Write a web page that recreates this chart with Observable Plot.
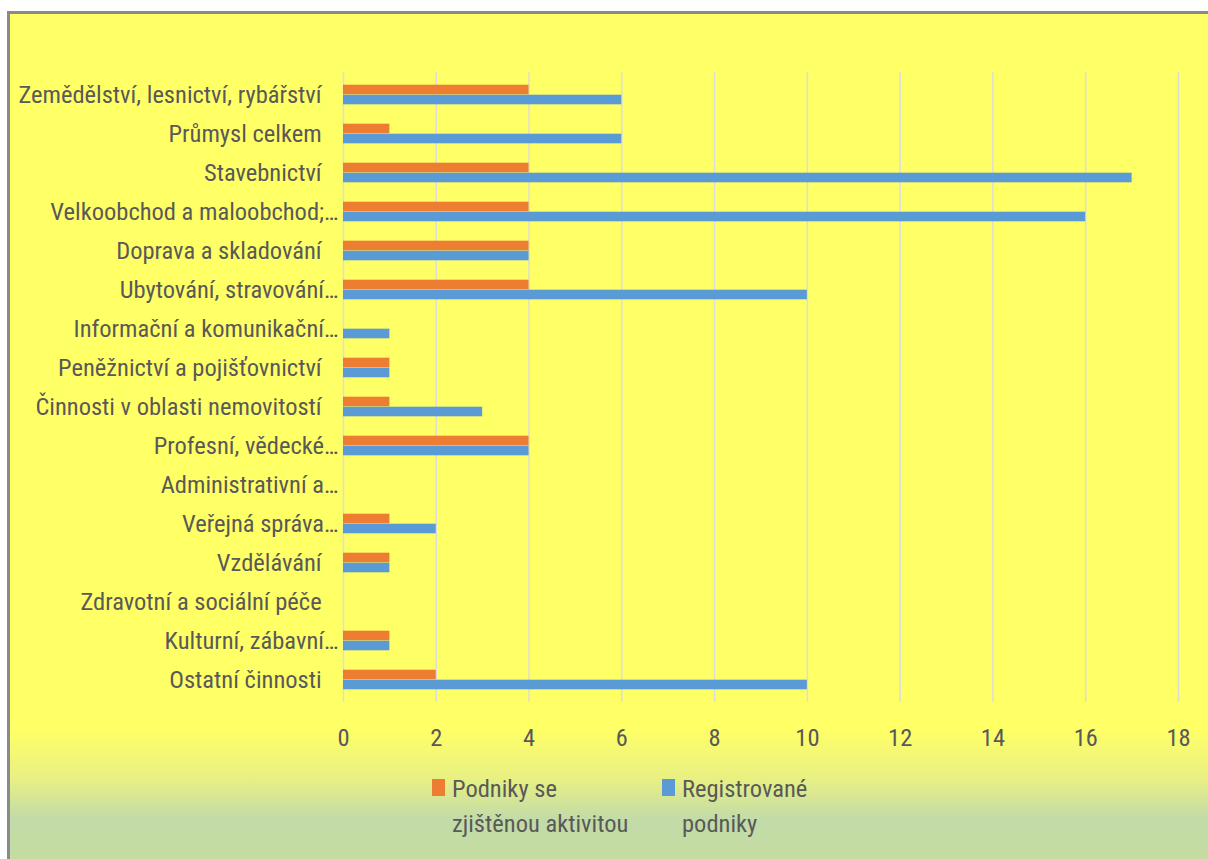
<!DOCTYPE html>
<html><head><meta charset="utf-8">
<script src="https://cdn.jsdelivr.net/npm/d3@7"></script>
<script src="https://cdn.jsdelivr.net/npm/@observablehq/plot@0.6"></script>
<style>
html,body{margin:0;padding:0;width:1208px;height:859px;overflow:hidden;background:#fff;}
#frame{position:absolute;left:7px;top:11px;width:1210px;height:860px;border:3px solid #8a8a8a;box-sizing:border-box;
 background:linear-gradient(to bottom,#ffff66 0px,#ffff66 715px,#e8f083 765px,#c2dba8 805px,#c6dd9e 860px);}
#chart{position:absolute;left:0;top:0;}
.font{font-family:"Liberation Sans Narrow","Roboto Condensed",Arial,sans-serif;color:#595959;}
#legend{position:absolute;top:771px;left:0;width:1208px;font-size:24.5px;line-height:35px;}
.item{position:absolute;top:0;}
.sw{position:absolute;left:0;top:8px;width:13px;height:17px;}
.lt{position:absolute;left:20px;top:0;white-space:nowrap;}
</style></head>
<body>
<div id="frame"></div>
<div id="chart"></div>
<div id="legend" class="font"></div>
<script>
const categories = [
  "Zemědělství, lesnictví, rybářství",
  "Průmysl celkem",
  "Stavebnictví",
  "Velkoobchod a maloobchod;…",
  "Doprava a skladování",
  "Ubytování, stravování…",
  "Informační a komunikační…",
  "Peněžnictví a pojišťovnictví",
  "Činnosti v oblasti nemovitostí",
  "Profesní, vědecké…",
  "Administrativní a…",
  "Veřejná správa…",
  "Vzdělávání",
  "Zdravotní a sociální péče",
  "Kulturní, zábavní…",
  "Ostatní činnosti"
];
const activeValues =     [4, 1, 4, 4, 4, 4, 0, 1, 1, 4, 0, 1, 1, 0, 1, 2];
const registeredValues = [6, 6, 17, 16, 4, 10, 1, 1, 3, 4, 0, 2, 1, 0, 1, 10];
const seriesNames = ["Podniky se zjištěnou aktivitou", "Registrované podniky"];
const seriesColors = ["#ed7d31", "#5b9bd5"];
const xTicks = [0, 2, 4, 6, 8, 10, 12, 14, 16, 18];

const active = categories.map((c, i) => ({category: c, value: activeValues[i]}));
const registered = categories.map((c, i) => ({category: c, value: registeredValues[i]}));

const band = 630 / categories.length;
const chart = Plot.plot({
  width: 1208,
  height: 760,
  marginLeft: 343,
  marginRight: 30,
  marginTop: 72,
  marginBottom: 58,
  style: {background: "transparent", fontFamily: '"Liberation Sans Narrow","Roboto Condensed",Arial,sans-serif', fontSize: "24.5px", color: "#595959", overflow: "visible"},
  x: {domain: [0, 18], ticks: xTicks, label: null, tickSize: 0, tickPadding: 26},
  y: {domain: categories, padding: 0, label: null, tickSize: 0, tickPadding: 5,
      tickFormat: d => d.endsWith("…") ? d : d + "\u00a0\u00a0\u00a0"},
  marks: [
    Plot.gridX(xTicks, {stroke: "#dcdcdc", strokeOpacity: 1, strokeWidth: 1.5}),
    Plot.barX(active, {y: "category", x: "value", fill: seriesColors[0], insetTop: (band - 20) / 2, insetBottom: band / 2}),
    Plot.barX(registered, {y: "category", x: "value", fill: seriesColors[1], insetTop: band / 2, insetBottom: (band - 20) / 2})
  ]
});
document.getElementById("chart").appendChild(chart);

const legend = document.getElementById("legend");
const legendItems = [
  {lines: ["Podniky se", "zjištěnou aktivitou"], left: 432},
  {lines: ["Registrované", "podniky"], left: 662}
];
legendItems.forEach((it, i) => {
  const d = document.createElement("div");
  d.className = "item";
  d.style.left = it.left + "px";
  d.innerHTML = `<div class="sw" style="background:${seriesColors[i]}"></div><div class="lt">${it.lines.join("<br>")}</div>`;
  legend.appendChild(d);
});
</script>
</body></html>
